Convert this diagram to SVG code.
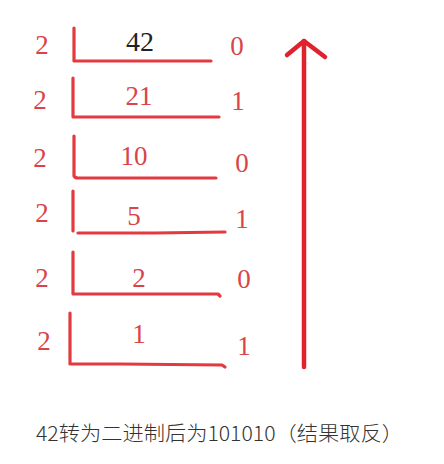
<svg xmlns="http://www.w3.org/2000/svg" width="444" height="464" viewBox="0 0 444 464">
<style>
.num{font-family:'Liberation Serif','DejaVu Serif','Times New Roman',serif;font-size:27px;fill:#d94449}
.q{font-family:'Liberation Serif','DejaVu Serif','Times New Roman',serif;font-size:28px;fill:#222}
.ln{fill:none;stroke:#e23a40;stroke-width:3.2;stroke-linecap:round;stroke-linejoin:round}
.arr{fill:none;stroke:#e0222e;stroke-width:4.5;stroke-linecap:round;stroke-linejoin:round}
.cap{font-family:'Noto Sans CJK SC','Noto Sans CJK JP',sans-serif;font-size:20px;font-weight:300;fill:#333}
</style>
<rect width="444" height="464" fill="#fff"/>
<g id="row1">
<text class="num" x="42" y="54" text-anchor="middle">2</text>
<path class="ln" d="M74 28 L74 61 L211 61"/>
<text class="q" x="140" y="51" text-anchor="middle">42</text>
<text class="num" x="237" y="55" text-anchor="middle">0</text>
</g>
<g id="row2">
<text class="num" x="40" y="109" text-anchor="middle">2</text>
<path class="ln" d="M73 78 L73 117 L219 117"/>
<text class="num" x="139" y="105" text-anchor="middle">21</text>
<text class="num" x="238" y="110" text-anchor="middle">1</text>
</g>
<g id="row3">
<text class="num" x="40" y="167" text-anchor="middle">2</text>
<path class="ln" d="M74 136 L74 176 Q75 178 78 178 L216 178"/>
<text class="num" x="134" y="165" text-anchor="middle">10</text>
<text class="num" x="242" y="172" text-anchor="middle">0</text>
</g>
<g id="row4">
<text class="num" x="42" y="222" text-anchor="middle">2</text>
<path class="ln" d="M73 191 L73 231 M78 233 L155 233 L225 232"/>
<text class="num" x="134" y="225" text-anchor="middle">5</text>
<text class="num" x="242" y="228" text-anchor="middle">1</text>
</g>
<g id="row5">
<text class="num" x="42" y="287" text-anchor="middle">2</text>
<path class="ln" d="M73 252 L73 294 L218 294 L220 296"/>
<text class="num" x="139" y="287" text-anchor="middle">2</text>
<text class="num" x="244" y="288" text-anchor="middle">0</text>
</g>
<g id="row6">
<text class="num" x="44" y="350" text-anchor="middle">2</text>
<path class="ln" d="M70 313 L70 364 L120 364 L222 365 L225 367"/>
<text class="num" x="139" y="343" text-anchor="middle">1</text>
<text class="num" x="244" y="355" text-anchor="middle">1</text>
</g>
<g id="connectors">
<path class="arr" d="M304 367 L304 41"/>
<path class="arr" d="M287 55 L304 41 L325 57"/>
</g>
<g id="caption">
<text class="cap" x="36" y="441" textLength="367" lengthAdjust="spacingAndGlyphs">42转为二进制后为101010（结果取反）</text>
</g>
</svg>
